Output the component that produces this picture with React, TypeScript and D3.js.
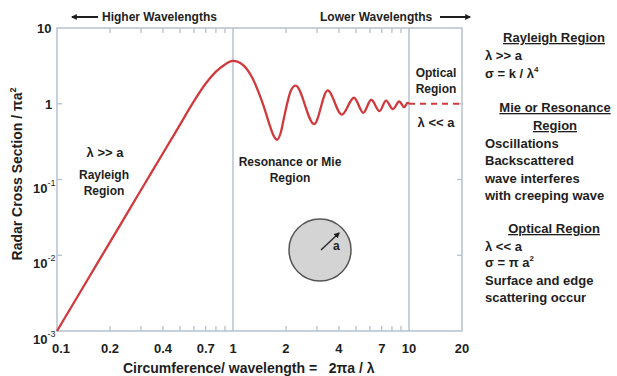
import React from "react";
import * as d3 from "d3";
import { useEffect, useRef } from "react";

// circumference / wavelength (ka) and normalized RCS
const kaValues = [
  0.1, 0.15, 0.2, 0.3, 0.4, 0.5, 0.6, 0.7, 0.8, 0.9, 0.95, 1.0, 1.1, 1.2, 1.3,
  1.4, 1.5, 1.6, 1.7, 1.78, 1.87, 1.95, 2.05, 2.13, 2.27, 2.89, 3.45, 4.15,
  4.87, 5.5, 6.1, 6.8, 7.4, 8.1, 8.8, 9.4, 9.8, 10,
];
const rcsValues = [
  0.001, 0.00486, 0.0149, 0.0727, 0.222, 0.53, 1.08, 1.85, 2.65, 3.3, 3.56, 3.68,
  3.45, 2.85, 2.1, 1.4, 0.9, 0.56, 0.38, 0.335, 0.42, 0.66, 1.1, 1.48, 1.73,
  0.54, 1.5, 0.72, 1.2, 0.76, 1.13, 0.8, 1.1, 0.85, 1.07, 0.9, 1.03, 1.0,
];
const opticalKa = [10, 20];
const opticalRcs = [1, 1];

const xTickValues = [0.1, 0.2, 0.4, 0.7, 1, 2, 4, 7, 10, 20];
const xMinorTicks = [0.2, 0.3, 0.4, 0.5, 0.6, 0.7, 0.8, 0.9, 2, 3, 4, 5, 6, 7, 8, 9];
const xGridLines = [1, 10];
const yTickValues = [10, 1, 0.1, 0.01, 0.001];
const yTickExponents = [null, null, "-1", "-2", "-3"];
const yTickBases = ["10", "1", "10", "10", "10"];
const yMinorTicks = [1, 0.1, 0.01];

const width = 617;
const height = 376;
const font = "'Liberation Sans', Arial, sans-serif";
const axisColor = "#b5c1d0";
const curveColor = "#d03a3c";
const textColor = "#1e1e1e";

export default function App() {
  const svgRef = useRef<SVGSVGElement>(null);

  useEffect(() => {
    const svg = d3.select(svgRef.current);
    svg.selectAll("*").remove();

    const x = d3.scaleLog().domain([0.1, 20]).range([57, 462]);
    const y = d3.scaleLog().domain([0.001, 10]).range([331, 28]);
    const [x0, x1] = x.range();
    const [yBottom, yTop] = y.range();

    const defs = svg.append("defs");
    defs
      .append("marker")
      .attr("id", "arrow")
      .attr("viewBox", "0 0 10 10")
      .attr("refX", 8)
      .attr("refY", 5)
      .attr("markerWidth", 6)
      .attr("markerHeight", 6)
      .attr("markerUnits", "userSpaceOnUse")
      .attr("orient", "auto-start-reverse")
      .append("path")
      .attr("d", "M0,0 L10,5 L0,10 z")
      .attr("fill", textColor);

    // frame
    svg
      .append("rect")
      .attr("x", x0)
      .attr("y", yTop)
      .attr("width", x1 - x0)
      .attr("height", yBottom - yTop)
      .attr("fill", "none")
      .attr("stroke", axisColor)
      .attr("stroke-width", 1.5);

    svg
      .selectAll(".grid")
      .data(xGridLines)
      .enter()
      .append("line")
      .attr("x1", (d) => x(d))
      .attr("x2", (d) => x(d))
      .attr("y1", yTop)
      .attr("y2", yBottom)
      .attr("stroke", axisColor)
      .attr("stroke-width", 1.5);

    // minor ticks top and bottom
    [yTop, yBottom].forEach((yy, i) => {
      svg
        .append("g")
        .selectAll("line")
        .data(xMinorTicks)
        .enter()
        .append("line")
        .attr("x1", (d) => x(d))
        .attr("x2", (d) => x(d))
        .attr("y1", yy)
        .attr("y2", i === 0 ? yy + 5 : yy - 5)
        .attr("stroke", axisColor)
        .attr("stroke-width", 1.3);
    });

    [x0, x1].forEach((xx, i) => {
      svg
        .append("g")
        .selectAll("line")
        .data(yMinorTicks)
        .enter()
        .append("line")
        .attr("x1", xx)
        .attr("x2", i === 0 ? xx + 5 : xx - 5)
        .attr("y1", (d) => y(d))
        .attr("y2", (d) => y(d))
        .attr("stroke", axisColor)
        .attr("stroke-width", 1.3);
    });

    // x tick labels
    svg
      .append("g")
      .selectAll("text")
      .data(xTickValues)
      .enter()
      .append("text")
      .attr("x", (d, i) => x(d) + (i === 0 ? 4 : 0))
      .attr("y", 353)
      .attr("text-anchor", "middle")
      .attr("font-family", font)
      .attr("font-weight", "bold")
      .attr("font-size", 13)
      .attr("fill", textColor)
      .text((d) => d);

    // y tick labels
    const yLabels = svg
      .append("g")
      .selectAll("text")
      .data(yTickValues)
      .enter()
      .append("text")
      .attr("x", (d, i) => (yTickExponents[i] ? 33 : i === 0 ? 37 : 45))
      .attr("y", (d, i) => y(d) + (yTickExponents[i] ? 13 : 5))
      .attr("font-family", font)
      .attr("font-weight", "bold")
      .attr("font-size", 13)
      .attr("fill", textColor);
    yLabels.append("tspan").text((d, i) => yTickBases[i]);
    yLabels
      .filter((d, i) => yTickExponents[i] !== null)
      .append("tspan")
      .attr("dy", -7)
      .attr("font-size", 9)
      .attr("font-weight", "normal")
      .text((d) => yTickExponents[yTickValues.indexOf(d)] as string);

    // curve
    const line = d3
      .line<number>()
      .x((d, i) => x(kaValues[i]))
      .y((d) => y(d))
      .curve(d3.curveMonotoneX);
    svg
      .append("path")
      .attr("d", line(rcsValues))
      .attr("fill", "none")
      .attr("stroke", curveColor)
      .attr("stroke-width", 2.3);

    const dashed = d3
      .line<number>()
      .x((d, i) => x(opticalKa[i]))
      .y((d) => y(d));
    svg
      .append("path")
      .attr("d", dashed(opticalRcs))
      .attr("fill", "none")
      .attr("stroke", curveColor)
      .attr("stroke-width", 2)
      .attr("stroke-dasharray", "6,5");

    // sphere
    svg
      .append("circle")
      .attr("cx", 320)
      .attr("cy", 250)
      .attr("r", 31)
      .attr("fill", "#d4d4d4")
      .attr("stroke", "#555")
      .attr("stroke-width", 1.5);
    svg
      .append("line")
      .attr("x1", 321)
      .attr("y1", 250)
      .attr("x2", 339)
      .attr("y2", 233)
      .attr("stroke", "#222")
      .attr("stroke-width", 1.3)
      .attr("marker-end", "url(#arrow)");

    const addText = (
      tx: number,
      ty: number,
      t: string,
      size: number,
      anchor = "start",
      underline = false
    ) =>
      svg
        .append("text")
        .attr("x", tx)
        .attr("y", ty)
        .attr("text-anchor", anchor)
        .attr("font-family", font)
        .attr("font-weight", "bold")
        .attr("font-size", size)
        .attr("fill", textColor)
        .attr("text-decoration", underline ? "underline" : null)
        .text(t);

    addText(333, 250, "a", 12);

    // in-plot annotations
    addText(105, 157, "λ >> a", 13, "middle");
    addText(104, 179, "Rayleigh", 12, "middle");
    addText(104, 195, "Region", 12, "middle");
    addText(290, 166, "Resonance or Mie", 12, "middle");
    addText(290, 182, "Region", 12, "middle");
    addText(436, 77, "Optical", 12, "middle");
    addText(436, 93, "Region", 12, "middle");
    addText(436, 127, "λ << a", 13, "middle");

    // top arrows
    addText(102, 21, "Higher Wavelengths", 12);
    svg
      .append("line")
      .attr("x1", 98)
      .attr("x2", 72)
      .attr("y1", 17)
      .attr("y2", 17)
      .attr("stroke", textColor)
      .attr("stroke-width", 2)
      .attr("marker-end", "url(#arrow)");
    addText(320, 21, "Lower Wavelengths", 12);
    svg
      .append("line")
      .attr("x1", 440)
      .attr("x2", 470)
      .attr("y1", 17)
      .attr("y2", 17)
      .attr("stroke", textColor)
      .attr("stroke-width", 2)
      .attr("marker-end", "url(#arrow)");

    // right panel
    addText(554, 42, "Rayleigh Region", 13, "middle", true);
    addText(485, 60, "λ >> a", 13);
    const s1 = addText(485, 78, "σ = k / λ", 13);
    s1.append("tspan").attr("dy", -6).attr("font-size", 8).text("4");
    addText(555, 112, "Mie or Resonance", 13, "middle", true);
    addText(555, 130, "Region", 13, "middle", true);
    addText(485, 148, "Oscillations", 13);
    addText(485, 165, "Backscattered", 13);
    addText(485, 183, "wave interferes", 13);
    addText(485, 200, "with creeping wave", 13);
    addText(554, 233, "Optical Region", 13, "middle", true);
    addText(485, 251, "λ << a", 13);
    const s2 = addText(485, 267, "σ = π a", 13);
    s2.append("tspan").attr("dy", -6).attr("font-size", 8).text("2");
    addText(485, 285, "Surface and edge", 13);
    addText(485, 302, "scattering occur", 13);

    // axis titles
    const yt = svg
      .append("text")
      .attr("transform", "translate(22,174) rotate(-90)")
      .attr("text-anchor", "middle")
      .attr("font-family", font)
      .attr("font-weight", "bold")
      .attr("font-size", 14)
      .attr("fill", textColor)
      .text("Radar Cross Section / πa");
    yt.append("tspan").attr("dy", -6).attr("font-size", 9).text("2");

    svg
      .append("text")
      .attr("x", 123)
      .attr("y", 373)
      .attr("font-family", font)
      .attr("font-weight", "bold")
      .attr("font-size", 14)
      .attr("fill", textColor)
      .style("white-space", "pre")
      .text("Circumference/ wavelength =   2πa / λ");
  }, []);

  return (
    <svg
      ref={svgRef}
      width={width}
      height={height}
      style={{ position: "absolute", left: 0, top: 0, background: "#fff" }}
    ></svg>
  );
}
